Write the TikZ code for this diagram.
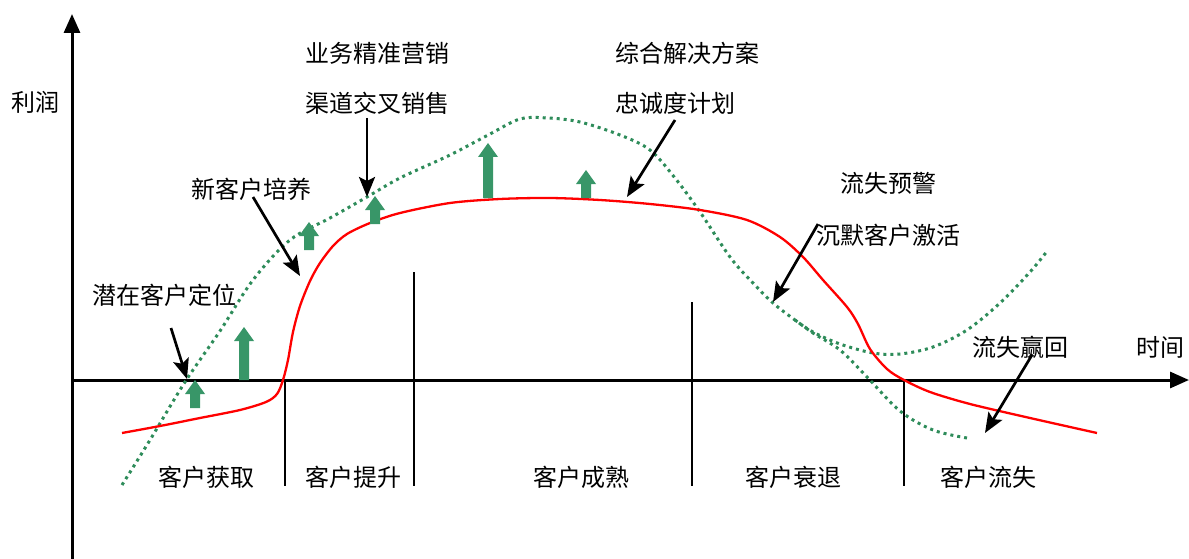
\documentclass[tikz,border=0pt]{standalone}
\usepackage{fontspec}
\newfontfamily\cjk{Noto Sans CJK SC}
\usetikzlibrary{arrows.meta}
\definecolor{dotgreen}{RGB}{46,140,90}
\definecolor{blockgreen}{RGB}{56,150,104}
\newcommand\upblock[3]{\fill[boost] (#1-5,#2) -- (#1-5,#3+14) -- (#1-10,#3+14) -- (#1,#3) -- (#1+10,#3+14) -- (#1+5,#3+14) -- (#1+5,#2) -- cycle;}
\begin{document}
\begin{tikzpicture}[x=1pt,y=-1pt,
  lbl/.style={font=\cjk\fontsize{24}{27}\selectfont, inner sep=0pt, anchor=west, text=black},
  axis/.style={line width=3pt, -{Triangle[length=19pt,width=16pt]}},
  divider/.style={line width=2pt},
  callout/.style={line width=2.7pt, -{Stealth[length=20pt,width=16pt,inset=4pt]}},
  profit/.style={red, line width=2.3pt},
  potential/.style={dotgreen, line width=3pt, dash pattern=on 3pt off 4pt},
  boost/.style={fill=blockgreen}]
\useasboundingbox (0,0) rectangle (1189,559);

% axes
\coordinate (o) at (72,380);
\coordinate (ytop) at (72,14);
\coordinate (ybot) at (72,559);
\coordinate (xend) at (1189,380);
\draw[axis] (ybot) -- (ytop);
\draw[axis] (o) -- (xend);

% dividers
\coordinate (d1a) at (285,380); \coordinate (d1b) at (285,486);
\coordinate (d2a) at (414,272); \coordinate (d2b) at (414,486);
\coordinate (d3a) at (692,302); \coordinate (d3b) at (692,486);
\coordinate (d4a) at (904,380); \coordinate (d4b) at (904,486);
\draw[divider] (d1a) -- (d1b);
\draw[divider] (d2a) -- (d2b);
\draw[divider] (d3a) -- (d3b);
\draw[divider] (d4a) -- (d4b);

% labels
\node[lbl] (ylabel) at (11,102) {利润};
\node[lbl] (xlabel) at (1136,347) {时间};
\node[lbl] (t1) at (305,53) {业务精准营销};
\node[lbl] (t2) at (305,103) {渠道交叉销售};
\node[lbl] (t3) at (615,53) {综合解决方案};
\node[lbl] (t4) at (615,103) {忠诚度计划};
\node[lbl] (t5) at (191,189) {新客户培养};
\node[lbl] (t6) at (92,295) {潜在客户定位};
\node[lbl] (t7) at (840,183) {流失预警};
\node[lbl] (t8) at (816,235) {沉默客户激活};
\node[lbl] (t9) at (972,347) {流失赢回};
\node[lbl] (s1) at (158,477) {客户获取};
\node[lbl] (s2) at (305,477) {客户提升};
\node[lbl] (s3) at (533,477) {客户成熟};
\node[lbl] (s4) at (745,477) {客户衰退};
\node[lbl] (s5) at (940,477) {客户流失};

% potential profit (dotted)
\draw[potential] plot[smooth, tension=0.55] coordinates {
  (122,485) (150,440) (185,382) (220,331) (253,280) (290,240) (330,218) (367,197)
  (400,178) (450,155) (490,134) (520,119) (548,118) (580,122) (620,135) (650,150)
  (675,178) (700,212) (730,257) (752,282) (773,303) (795,320) (813,332) (840,344)
  (873,353) (900,354) (933,347) (967,330) (1000,303) (1030,272) (1048,250)};
\draw[potential] plot[smooth, tension=0.55] coordinates {
  (795,320) (813,333) (840,350) (867,377) (900,411) (933,430) (967,438)};

% actual profit
\draw[profit] plot[smooth, tension=0.5] coordinates {
  (122,433) (160,426) (200,418) (240,410) (266,402) (277,394) (283,380) (288,360)
  (293,332) (300,306) (310,281) (320,263) (333,246) (347,234) (370,223) (400,213)
  (450,203) (500,199) (550,198) (600,200) (650,204) (700,210) (747,220) (780,237)
  (803,257) (823,280) (847,307) (858,324) (870,349) (887,369) (904,380) (930,392)
  (970,404) (1030,418) (1097,433)};

% green boost arrows
\upblock{195}{408}{380}
\upblock{244}{380}{327}
\upblock{309}{250}{222}
\upblock{375}{224}{196}
\upblock{488}{198}{143}
\upblock{586}{198}{170}

% callout arrows
\coordinate (c1s) at (171,328); \coordinate (c1e) at (187,379);
\coordinate (c2s) at (253,197); \coordinate (c2e) at (300,276);
\coordinate (c3s) at (367,118); \coordinate (c3e) at (367,197);
\coordinate (c4s) at (675,120); \coordinate (c4e) at (627,197);
\coordinate (c5s) at (818,224); \coordinate (c5e) at (773,302);
\coordinate (c6s) at (1032,355); \coordinate (c6e) at (985,433);
\draw[callout] (c1s) -- (c1e);
\draw[callout] (c2s) -- (c2e);
\draw[callout] (c3s) -- (c3e);
\draw[callout] (c4s) -- (c4e);
\draw[callout] (c5s) -- (c5e);
\draw[callout] (c6s) -- (c6e);
\end{tikzpicture}
\end{document}
